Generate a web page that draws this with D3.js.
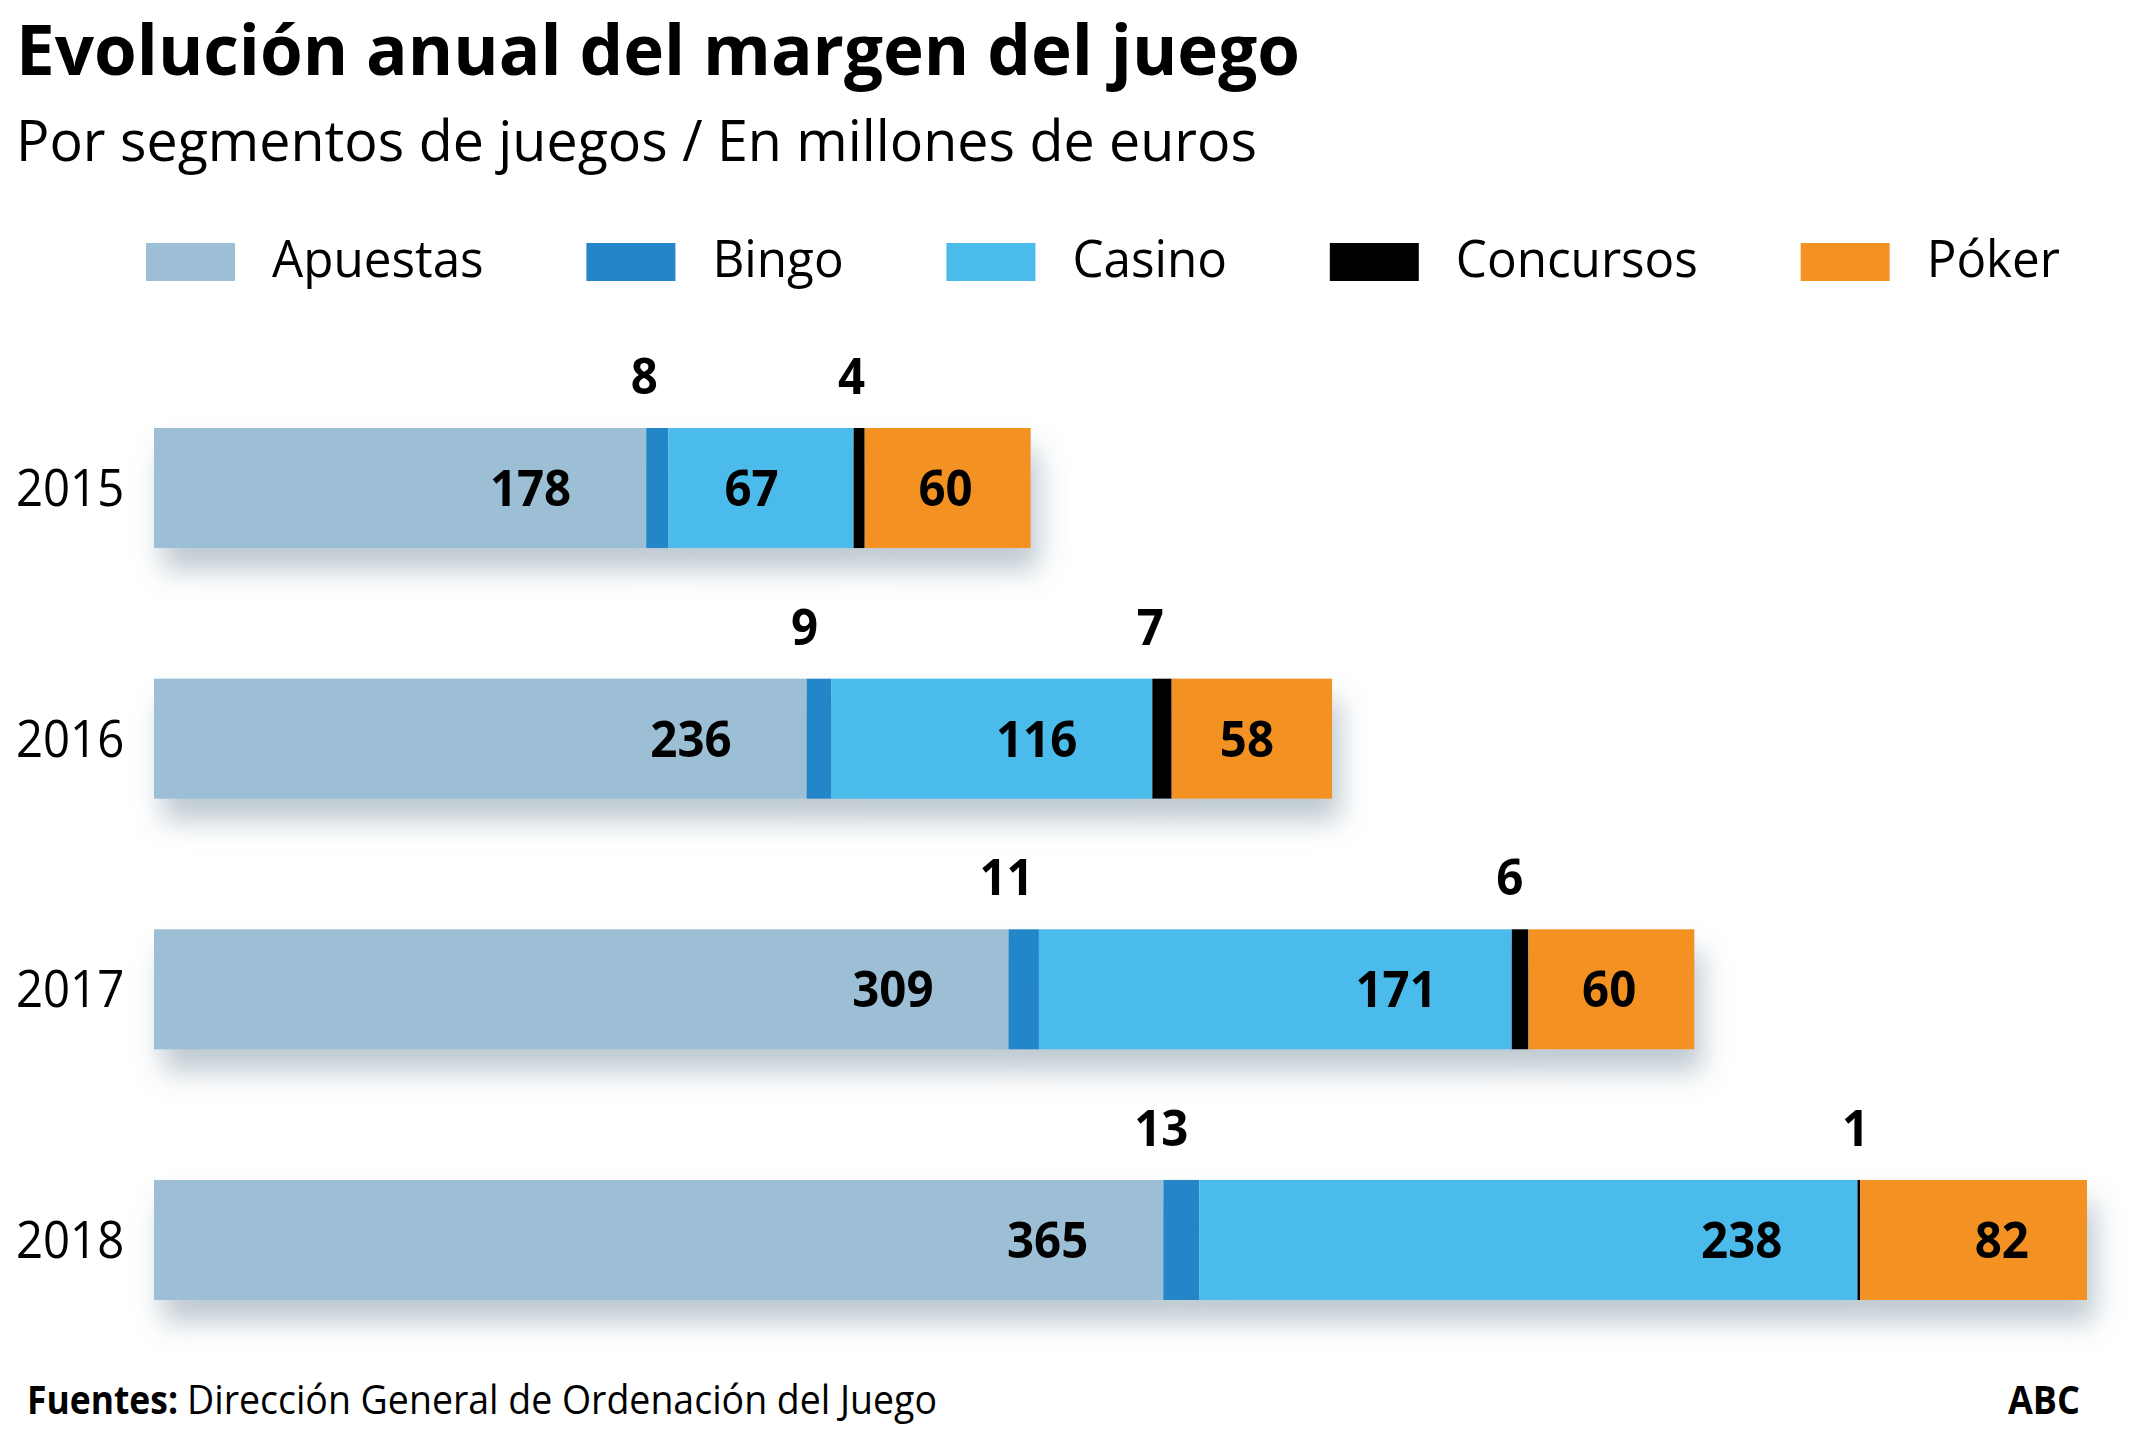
<!DOCTYPE html>
<html>
<head>
<meta charset="utf-8">
<script src="https://cdn.jsdelivr.net/npm/d3@7"></script>
<style>
  html, body { margin: 0; padding: 0; background: #ffffff; }
  svg { display: block; }
  text { font-family: "Open Sans", "Noto Sans", sans-serif; fill: #000; }
</style>
</head>
<body>
<svg id="chart" width="2142" height="1455"></svg>
<script>
// ---------- DATA ----------
const years = ["2015", "2016", "2017", "2018"];
const seriesNames = ["Apuestas", "Bingo", "Casino", "Concursos", "Póker"];
const apuestas  = [178, 236, 309, 365];
const bingo     = [8, 9, 11, 13];
const casino    = [67, 116, 171, 238];
const concursos = [4, 7, 6, 1];
const poker     = [60, 58, 60, 82];
const seriesColors = ["#9dbfd6", "#2286c9", "#4bbbeb", "#000000", "#f39223"];
const labelAbove = ["Bingo", "Concursos"];
const title = "Evolución anual del margen del juego";
const subtitle = "Por segmentos de juegos / En millones de euros";
const sourceLabel = "Fuentes:";
const sourceText = "Dirección General de Ordenación del Juego";
const brand = "ABC";

// ---------- BUILD ----------
const seriesValues = [apuestas, bingo, casino, concursos, poker];
const rows = years.map((y, i) => {
  const r = { year: y };
  seriesNames.forEach((s, j) => r[s] = seriesValues[j][i]);
  return r;
});
const stacked = d3.stack().keys(seriesNames)(rows);
const totals = rows.map(r => d3.sum(seriesNames, s => r[s]));

const svg = d3.select("#chart");
const K = 0.93; // condense factor to mimic narrower face

function condense(sel, k) {
  sel.each(function () {
    const w = this.getComputedTextLength();
    d3.select(this).attr("textLength", w * k).attr("lengthAdjust", "spacingAndGlyphs");
  });
}
function fitTo(sel, w) {
  sel.attr("textLength", w).attr("lengthAdjust", "spacingAndGlyphs");
}

// Title & subtitle
svg.append("text").attr("x", 16).attr("y", 75)
  .attr("font-size", 70).attr("font-weight", 700)
  .text(title).call(fitTo, 1284);
svg.append("text").attr("x", 16).attr("y", 161)
  .attr("font-size", 57).attr("font-weight", 400)
  .text(subtitle).call(fitTo, 1241);

// Scales
const x = d3.scaleLinear().domain([0, d3.max(totals)]).range([154, 2087]);
const y = d3.scaleBand().domain(years).range([428, 1300]).paddingInner(0.521).paddingOuter(0);
const color = d3.scaleOrdinal().domain(seriesNames).range(seriesColors);

// Shadow filter
const defs = svg.append("defs");
const f = defs.append("filter").attr("id", "shadow")
  .attr("x", "-5%").attr("y", "-30%").attr("width", "115%").attr("height", "200%");
f.append("feDropShadow").attr("dx", 8).attr("dy", 22).attr("stdDeviation", 14)
  .attr("flood-color", "#6f8798").attr("flood-opacity", 0.45);

// Legend (flow layout)
const legendY = 243, swW = 89, swH = 38, swGap = 37, legendStart = 146, legendEnd = 2060;
const legend = svg.append("g");
const lItems = seriesNames.map(s => {
  const g = legend.append("g");
  const t = g.append("text").attr("font-size", 52).attr("y", 277).text(s);
  t.call(condense, 0.95);
  return { s, g, t, w: +t.attr("textLength") };
});
const used = d3.sum(lItems, d => swW + swGap + d.w);
const itemGap = (legendEnd - legendStart - used) / (lItems.length - 1);
let cx = legendStart;
lItems.forEach(d => {
  d.g.insert("rect", "text").attr("x", cx).attr("y", legendY).attr("width", swW).attr("height", swH)
    .attr("fill", color(d.s));
  d.t.attr("x", cx + swW + swGap);
  cx += swW + swGap + d.w + itemGap;
});

// Bars
const rowG = svg.append("g").selectAll("g.row").data(years).join("g").attr("class", "row")
  .attr("filter", "url(#shadow)");
rowG.each(function (yr, i) {
  const g = d3.select(this);
  stacked.forEach(layer => {
    const d = layer[i];
    g.append("rect")
      .attr("x", x(d[0])).attr("y", y(yr))
      .attr("width", x(d[1]) - x(d[0]))
      .attr("height", y.bandwidth())
      .attr("fill", color(layer.key));
  });
});

// Year labels
svg.append("g").selectAll("text").data(years).join("text")
  .attr("x", 16).attr("y", d => y(d) + y.bandwidth() / 2 + 18)
  .attr("font-size", 52).text(d => d)
  .call(condense, 0.91);

// Value labels
const labels = svg.append("g");
stacked.forEach(layer => {
  layer.forEach((d, i) => {
    const yr = years[i];
    const v = d[1] - d[0];
    if (labelAbove.includes(layer.key)) {
      labels.append("text")
        .attr("x", x(d[0]) - 2).attr("y", y(yr) - 34)
        .attr("text-anchor", "middle")
        .attr("font-size", 51).attr("font-weight", 700)
        .text(v).call(condense, K);
    } else {
      const pad = layer.key === "Póker" ? 58 : 75;
      labels.append("text")
        .attr("x", x(d[1]) - pad).attr("y", y(yr) + y.bandwidth() / 2 + 18)
        .attr("text-anchor", "end")
        .attr("font-size", 51).attr("font-weight", 700)
        .text(v).call(condense, K);
    }
  });
});

// Footer
svg.append("text").attr("x", 27).attr("y", 1414)
  .attr("font-size", 40).attr("font-weight", 700).text(sourceLabel).call(fitTo, 151);
svg.append("text").attr("x", 187).attr("y", 1414)
  .attr("font-size", 40).attr("font-weight", 400).text(sourceText).call(fitTo, 750);
svg.append("text").attr("x", 2080).attr("y", 1414).attr("text-anchor", "end")
  .attr("font-size", 40).attr("font-weight", 700).text(brand).call(fitTo, 72);
</script>
</body>
</html>
